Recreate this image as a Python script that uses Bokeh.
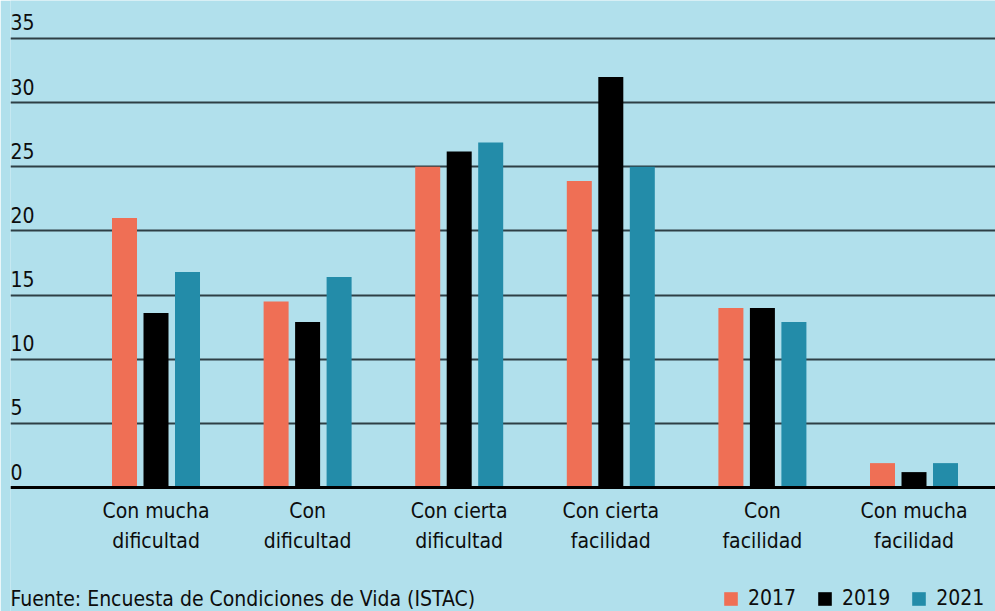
from bokeh.plotting import figure
from bokeh.models import Range1d, FixedTicker, Span, Legend, LegendItem, ColumnDataSource
from bokeh.transform import dodge
from bokeh.core.properties import value
from bokeh.embed import file_html
from bokeh.resources import INLINE

# ---- data ----
categories = ["Con mucha\ndificultad", "Con\ndificultad", "Con cierta\ndificultad",
              "Con cierta\nfacilidad", "Con\nfacilidad", "Con mucha\nfacilidad"]
years = ["2017", "2019", "2021"]
v2017 = [21.0, 14.5, 25.0, 23.9, 14.0, 1.9]
v2019 = [13.6, 12.9, 26.2, 32.0, 14.0, 1.2]
v2021 = [16.8, 16.4, 26.9, 25.0, 12.9, 1.9]
y_ticks = [0, 5, 10, 15, 20, 25, 30, 35]
source_text = "Fuente: Encuesta de Condiciones de Vida (ISTAC)"

# ---- style ----
BG = "#b1e0ec"
COLORS = ["#ef6f55", "#000000", "#238ca9"]
FONT = "DejaVu Sans Condensed"
FS = "21px"
TXT = "#0d0d0d"

W, H = 995, 611
LEFT = 10
X0 = -0.9598
X1 = X0 + (W - LEFT) / 151.6
Y0 = -124 / 12.829
Y1 = Y0 + H / 12.829
PXY = (Y1 - Y0) / H          # data units per pixel (vertical)
PXX = (X1 - X0) / (W - LEFT)  # data units per pixel (horizontal)

p = figure(width=W, height=H, output_backend="svg", toolbar_location=None,
           x_range=Range1d(X0, X1), y_range=Range1d(Y0, Y1),
           min_border_left=LEFT, min_border_right=0, min_border_top=0, min_border_bottom=0,
           background_fill_color=BG, border_fill_color=BG, outline_line_color=None)

p.xaxis.visible = False
p.yaxis.visible = False
p.xgrid.grid_line_color = None
p.ygrid.ticker = FixedTicker(ticks=[t for t in y_ticks if t > 0])
p.ygrid.grid_line_color = "#2e3f45"
p.ygrid.grid_line_width = 2

idx = list(range(len(categories)))
src = ColumnDataSource(dict(x=idx, v2017=v2017, v2019=v2019, v2021=v2021))

bar_w = 25 * PXX
off = 31.5 * PXX
renderers = []
for col, o, c in zip(["v2017", "v2019", "v2021"], [-off, 0, off], COLORS):
    r = p.vbar(x=dodge("x", o, range=p.x_range), top=col, width=bar_w, bottom=0,
               source=src, fill_color=c, line_color=None)
    renderers.append(r)

p.add_layout(Span(location=0, dimension="width", line_color="#000000", line_width=3))

# y tick labels above gridlines
p.text(x=[X0] * len(y_ticks), y=[t + 16 * PXY for t in y_ticks], text=[str(t) for t in y_ticks],
       text_font=value(FONT), text_font_size=FS, text_color=TXT,
       text_align="left", text_baseline="middle")

# category labels (two lines)
line1 = [c.split("\n")[0] for c in categories]
line2 = [c.split("\n")[1] for c in categories]
p.text(x=idx, y=[-23 * PXY] * len(idx), text=line1, text_font=value(FONT), text_font_size=FS,
       text_color=TXT, text_align="center", text_baseline="middle")
p.text(x=idx, y=[-53 * PXY] * len(idx), text=line2, text_font=value(FONT), text_font_size=FS,
       text_color=TXT, text_align="center", text_baseline="middle")

# source
p.text(x=[X0], y=[-111 * PXY], text=[source_text], text_font=value(FONT), text_font_size=FS,
       text_color=TXT, text_align="left", text_baseline="middle")

legend = Legend(items=[LegendItem(label=y, renderers=[r]) for y, r in zip(years, renderers)],
                orientation="horizontal", location=(712, 1),
                glyph_width=17, glyph_height=17, label_standoff=9, spacing=20,
                padding=0, margin=0, border_line_color=None, background_fill_alpha=0,
                label_text_font=FONT, label_text_font_size=FS, label_text_color=TXT,
                label_height=17)
p.add_layout(legend)

open("out.html", "w").write(file_html(p, INLINE))
